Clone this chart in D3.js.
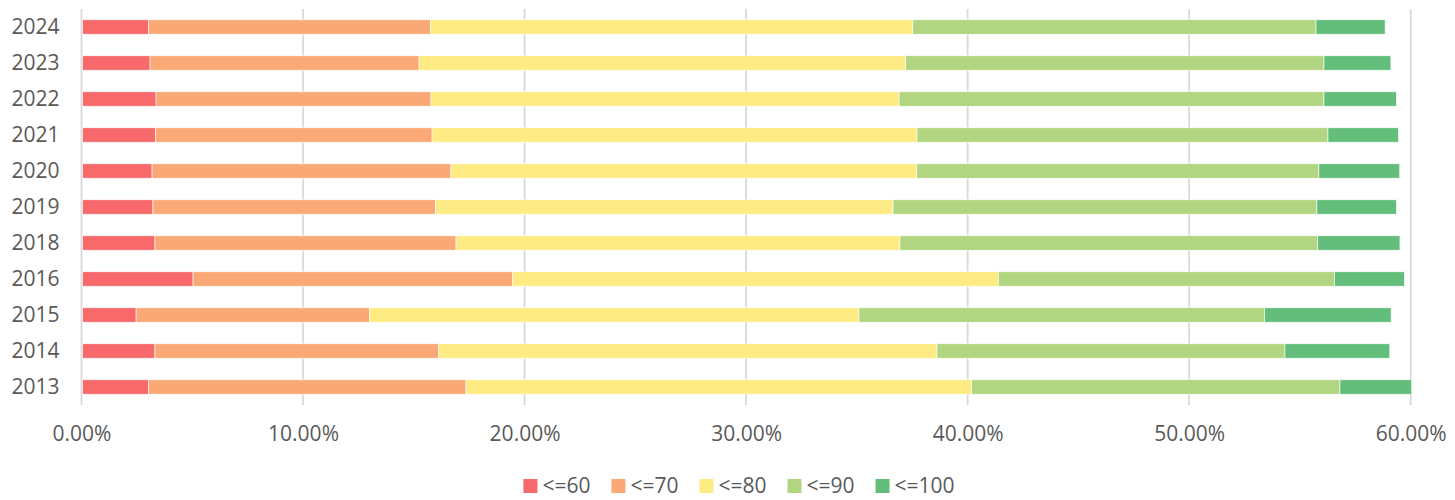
<!DOCTYPE html>
<html>
<head>
<meta charset="utf-8">
<script src="https://cdn.jsdelivr.net/npm/d3@7"></script>
<style>
  body { margin: 0; background: #fff; }
  .container { width: 1455px; height: 500px; }
  text { font-family: 'Open Sans', sans-serif; fill: #595959; }
  .axis path { display: none; }
  .grid line { stroke: #d9d9d9; stroke-width: 1.8; }
</style>
</head>
<body>
<div class="container"><svg></svg></div>
<script>
// data (percent of students, by score band)
const years = ['2024', '2023', '2022', '2021', '2020', '2019', '2018', '2016', '2015', '2014', '2013']
const seriesNames = ['<=60', '<=70', '<=80', '<=90', '<=100']
const le60  = [2.99, 3.05, 3.32, 3.30, 3.14, 3.18, 3.27, 4.99, 2.42, 3.27, 2.99]
const le70  = [12.71, 12.14, 12.41, 12.48, 13.49, 12.76, 13.59, 14.43, 10.53, 12.81, 14.32]
const le80  = [21.78, 21.97, 21.13, 21.89, 21.03, 20.65, 20.04, 21.92, 22.10, 22.49, 22.83]
const le90  = [18.20, 18.88, 19.18, 18.55, 18.15, 19.13, 18.86, 15.18, 18.31, 15.71, 16.62]
const le100 = [3.12, 3.02, 3.27, 3.18, 3.65, 3.59, 3.71, 3.15, 5.71, 4.73, 3.24]
const tickValues = [0, 10, 20, 30, 40, 50, 60]
const colors = ['#f8696b', '#faa875', '#ffeb84', '#b1d580', '#63be7b']

// selections
const $svg = d3.select('svg')

// dimensions
const margin = { top: 9, bottom: 95, left: 81.5, right: 44.3 }
const width = 1455 - margin.left - margin.right
const height = 500 - margin.top - margin.bottom
const fontSize = 21

const scaleX = d3.scaleLinear().domain([0, 60]).range([0, width])
const scaleY = d3.scaleBand().domain(years).range([0, height]).paddingInner(0.6).paddingOuter(0.3)

function buildRows() {
  const cols = [le60, le70, le80, le90, le100]
  return years.map((year, i) => {
    const row = { year }
    seriesNames.forEach((name, j) => { row[name] = cols[j][i] })
    return row
  })
}

function render() {
  $svg.attr('width', 1455).attr('height', 500)

  const $g = $svg.append('g')
    .attr('transform', `translate(${margin.left}, ${margin.top})`)

  // vertical gridlines (0% line included)
  $g.append('g')
    .attr('class', 'grid')
    .selectAll('line')
    .data(tickValues)
    .join('line')
    .attr('x1', d => scaleX(d))
    .attr('x2', d => scaleX(d))
    .attr('y1', 0)
    .attr('y2', height)

  const stacked = d3.stack().keys(seriesNames)(buildRows())

  $g.append('g')
    .selectAll('g')
    .data(stacked)
    .join('g')
    .attr('fill', (d, i) => colors[i])
    .selectAll('rect')
    .data(d => d)
    .join('rect')
    .attr('x', d => scaleX(d[0]) + 1)
    .attr('y', d => scaleY(d.data.year))
    .attr('width', d => scaleX(d[1]) - scaleX(d[0]))
    .attr('height', scaleY.bandwidth())
    .attr('stroke', '#fff')
    .attr('stroke-width', 0.6)

  // axes
  $g.append('g')
    .attr('class', 'axis')
    .call(d3.axisLeft(scaleY).tickSize(0).tickPadding(22))
    .call(a => a.selectAll('text').style('font-size', fontSize + 'px'))

  $g.append('g')
    .attr('class', 'axis')
    .attr('transform', `translate(0, ${height})`)
    .call(d3.axisBottom(scaleX)
      .tickValues(tickValues)
      .tickSize(0)
      .tickPadding(21)
      .tickFormat(d => d.toFixed(2) + '%'))
    .call(a => a.selectAll('text').style('font-size', fontSize + 'px'))

  // legend
  const $legend = $svg.append('g')
  const items = $legend.selectAll('g')
    .data(seriesNames)
    .join('g')

  items.append('rect')
    .attr('width', 14)
    .attr('height', 14)
    .attr('y', -14)
    .attr('fill', (d, i) => colors[i])

  items.append('text')
    .attr('x', 19)
    .attr('y', 0)
    .style('font-size', fontSize + 'px')
    .text(d => d)

  let offset = 0
  items.each(function() {
    const w = 19 + this.querySelector('text').getComputedTextLength()
    d3.select(this).attr('transform', `translate(${offset}, 0)`)
    offset += w + 21
  })
  const total = offset - 21
  $legend.attr('transform', `translate(${739 - total / 2}, 493)`)
}

render()
</script>
</body>
</html>
